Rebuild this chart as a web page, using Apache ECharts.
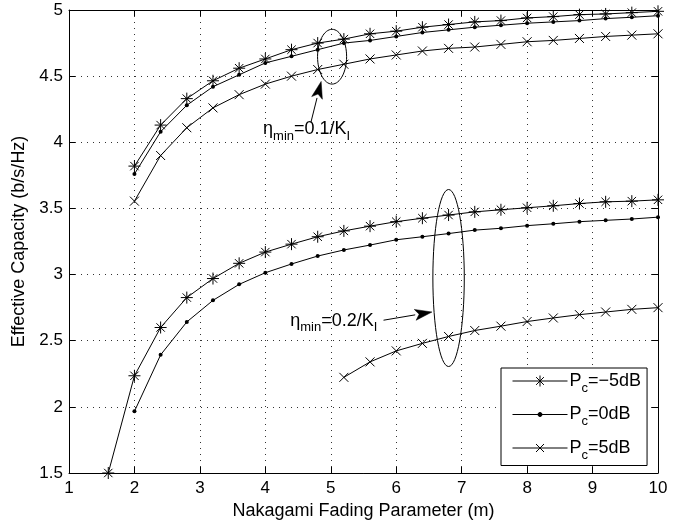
<!DOCTYPE html>
<html>
<head>
<meta charset="utf-8">
<script src="https://cdn.jsdelivr.net/npm/echarts@6/dist/echarts.min.js"></script>
<style>
html,body{margin:0;padding:0;background:#fff;}
#chart{width:681px;height:525px;}
</style>
</head>
<body>
<div id="chart"></div>
<script>
// ---- Data ----
var xTop = [2.0,2.4,2.8,3.2,3.6,4.0,4.4,4.8,5.2,5.6,6.0,6.4,6.8,7.2,7.6,8.0,8.4,8.8,9.2,9.6,10.0];
var topPcM5 = [3.82,4.13,4.33,4.465,4.56,4.63,4.70,4.75,4.78,4.82,4.84,4.87,4.89,4.91,4.92,4.94,4.95,4.965,4.97,4.98,4.99];
var topPc0  = [3.76,4.08,4.28,4.42,4.51,4.60,4.65,4.70,4.75,4.77,4.80,4.83,4.85,4.87,4.885,4.90,4.91,4.92,4.935,4.945,4.957];
var topPc5  = [3.555,3.90,4.11,4.26,4.36,4.44,4.50,4.55,4.59,4.63,4.66,4.69,4.71,4.72,4.74,4.76,4.77,4.785,4.80,4.81,4.82];

var xLowM5 = [1.6,2.0,2.4,2.8,3.2,3.6,4.0,4.4,4.8,5.2,5.6,6.0,6.4,6.8,7.2,7.6,8.0,8.4,8.8,9.2,9.6,10.0];
var lowPcM5 = [1.5,2.235,2.60,2.826,2.97,3.085,3.17,3.23,3.286,3.33,3.366,3.40,3.426,3.45,3.474,3.49,3.505,3.52,3.537,3.55,3.555,3.565];
var xLow0 = [2.0,2.4,2.8,3.2,3.6,4.0,4.4,4.8,5.2,5.6,6.0,6.4,6.8,7.2,7.6,8.0,8.4,8.8,9.2,9.6,10.0];
var lowPc0 = [1.966,2.393,2.642,2.805,2.926,3.014,3.08,3.14,3.186,3.223,3.263,3.286,3.31,3.336,3.35,3.37,3.384,3.40,3.41,3.42,3.434];
var xLow5 = [5.2,5.6,6.0,6.4,6.8,7.2,7.6,8.0,8.4,8.8,9.2,9.6,10.0];
var lowPc5 = [2.223,2.34,2.423,2.48,2.532,2.577,2.61,2.645,2.672,2.697,2.717,2.737,2.75];

var legendNames = ['P_c=−5dB','P_c=0dB','P_c=5dB'];
var xTicks = [1,2,3,4,5,6,7,8,9,10];
var yTicks = [1.5,2,2.5,3,3.5,4,4.5,5];

// annotations (data coordinates)
var ellipses = [
  {x:5.02, y:4.647, rx:0.222, ry:0.207},
  {x:6.80, y:2.974, rx:0.240, ry:0.669}
];
var arrows = [
  {x1:4.696, y1:4.15, x2:4.853, y2:4.46},
  {x1:5.806, y1:2.655, x2:6.546, y2:2.717}
];
var labels = [
  {x:3.966, y:4.10, txt:'0.1'},
  {x:4.38, y:2.651, txt:'0.2'}
];

function zip(xs, ys){ return xs.map(function(x,i){ return [x, ys[i]]; }); }

var STAR = 'path://M0,5L10,5M5,0L5,10M1.5,1.5L8.5,8.5M8.5,1.5L1.5,8.5';
var XMARK = 'path://M0,0L10,10M10,0L0,10';
var ICONS = [
  'path://M0,0M55,12M0,6L55,6M27.5,0.5L27.5,11.5M23.6,2.1L31.4,9.9M31.4,2.1L23.6,9.9',
  'path://M0,0M55,12M0,6L55,6M29.5,6A2,2 0 1 1 25.5,6A2,2 0 1 1 29.5,6Z',
  'path://M0,0M55,12M0,6L55,6M23.5,2L31.5,10M31.5,2L23.5,10'
];

function mkSeries(name, data, sym, size){
  return {
    name: name, type: 'line', data: data, clip: false,
    symbol: sym, symbolSize: size, showAllSymbol: true,
    lineStyle: {color:'#000', width:1},
    itemStyle: {color: sym === 'circle' ? '#000' : 'rgba(0,0,0,0)', borderColor:'#000', borderWidth: sym === 'circle' ? 0 : 1},
    emphasis: {disabled: true},
    animation: false, z: 5
  };
}

var font = '"Liberation Sans", Arial, Helvetica, sans-serif';
var chart = echarts.init(document.getElementById('chart'), null, {renderer:'canvas'});

var axisCommon = {
  type:'value',
  axisLine:{show:true, lineStyle:{color:'#000', width:1}},
  axisTick:{show:true, inside:true, length:6, lineStyle:{color:'#000'}},
  splitLine:{show:false}
};

var option = {
  backgroundColor:'#fff',
  animation:false,
  textStyle:{fontFamily:font},
  grid:{left:69, right:23, top:10, bottom:51, containLabel:false},
  xAxis:[
    Object.assign({}, axisCommon, {
      min:1, max:10, interval:1, position:'bottom',
      axisLabel:{color:'#000', fontSize:17, fontFamily:font, margin:7},
      splitLine:{show:true, lineStyle:{color:'#333', type:[1,5], width:1}},
      name:'Nakagami Fading Parameter (m)', nameLocation:'middle', nameGap:29,
      nameTextStyle:{color:'#000', fontSize:18, fontFamily:font}
    }),
    Object.assign({}, axisCommon, {min:1, max:10, interval:1, position:'top', axisLabel:{show:false}})
  ],
  yAxis:[
    Object.assign({}, axisCommon, {
      min:1.5, max:5, interval:0.5, position:'left',
      axisLabel:{color:'#000', fontSize:17, fontFamily:font, margin:6},
      splitLine:{show:true, lineStyle:{color:'#333', type:[1,5], width:1}},
      name:'Effective Capacity (b/s/Hz)', nameLocation:'middle', nameGap:40,
      nameTextStyle:{color:'#000', fontSize:18, fontFamily:font}
    }),
    Object.assign({}, axisCommon, {min:1.5, max:5, interval:0.5, position:'right', axisLabel:{show:false}})
  ],
  legend:{
    data: legendNames.map(function(n, i){
      return {name:n, icon:ICONS[i], itemStyle:{color:'#000', borderColor:'#000', borderWidth:1}};
    }),
    orient:'vertical',
    left:501, top:368,
    padding:[4,6,4,11],
    itemWidth:55, itemHeight:12, itemGap:11,
    backgroundColor:'#fff',
    borderColor:'#000', borderWidth:1, borderRadius:0,
    selectedMode:false,
    formatter:function(n){
      var parts = n.split('_');
      var rest = parts[1].substring(1);
      return '{a|P}{s|c}{a|' + rest + '}';
    },
    textStyle:{
      color:'#000', fontFamily:font, padding:[0,0,0,-3],
      rich:{
        a:{fontSize:18, fontFamily:font, color:'#000'},
        s:{fontSize:13, fontFamily:font, color:'#000', padding:[14,0,0,0]}
      }
    }
  },
  series:[
    mkSeries(legendNames[0], zip(xTop, topPcM5), STAR, 12),
    mkSeries(legendNames[1], zip(xTop, topPc0), 'circle', 4),
    mkSeries(legendNames[2], zip(xTop, topPc5), XMARK, 9),
    mkSeries(legendNames[0], zip(xLowM5, lowPcM5), STAR, 12),
    mkSeries(legendNames[1], zip(xLow0, lowPc0), 'circle', 4),
    mkSeries(legendNames[2], zip(xLow5, lowPc5), XMARK, 9)
  ]
};
chart.setOption(option);

function px(x, y){ return chart.convertToPixel({xAxisIndex:0, yAxisIndex:0}, [x, y]); }

var g = [];
ellipses.forEach(function(e){
  var c = px(e.x, e.y);
  var r = px(e.x + e.rx, e.y + e.ry);
  g.push({type:'ellipse', shape:{cx:c[0], cy:c[1], rx:Math.abs(r[0]-c[0]), ry:Math.abs(c[1]-r[1])},
    style:{fill:null, stroke:'#000', lineWidth:1}, z:10});
});
arrows.forEach(function(a){
  var p1 = px(a.x1, a.y1), p2 = px(a.x2, a.y2);
  var dx = p2[0]-p1[0], dy = p2[1]-p1[1];
  var L = Math.sqrt(dx*dx+dy*dy); var ux = dx/L, uy = dy/L;
  var hl = 17, hw = 5.5;
  var bx = p2[0]-ux*hl, by = p2[1]-uy*hl;
  g.push({type:'line', shape:{x1:p1[0], y1:p1[1], x2:bx, y2:by}, style:{stroke:'#000', lineWidth:1}, z:10});
  g.push({type:'polygon', shape:{points:[[p2[0],p2[1]],[bx - uy*hw, by + ux*hw],[bx + ux*4, by + uy*4],[bx + uy*hw, by - ux*hw]]},
    style:{fill:'#000', stroke:'#000', lineWidth:0.5}, z:10});
});
labels.forEach(function(l){
  var p = px(l.x, l.y);
  g.push({type:'text', x:p[0], y:p[1], z:11,
    style:{
      text:'{n|η}{s|min}{n|=' + l.txt + '/K}{s|I}',
      verticalAlign:'middle', align:'left',
      rich:{
        n:{fontSize:18, fontFamily:font, fill:'#000'},
        s:{fontSize:13, fontFamily:font, fill:'#000', padding:[14,0,0,0]}
      }
    }});
});
chart.setOption({graphic: g});
</script>
</body>
</html>
